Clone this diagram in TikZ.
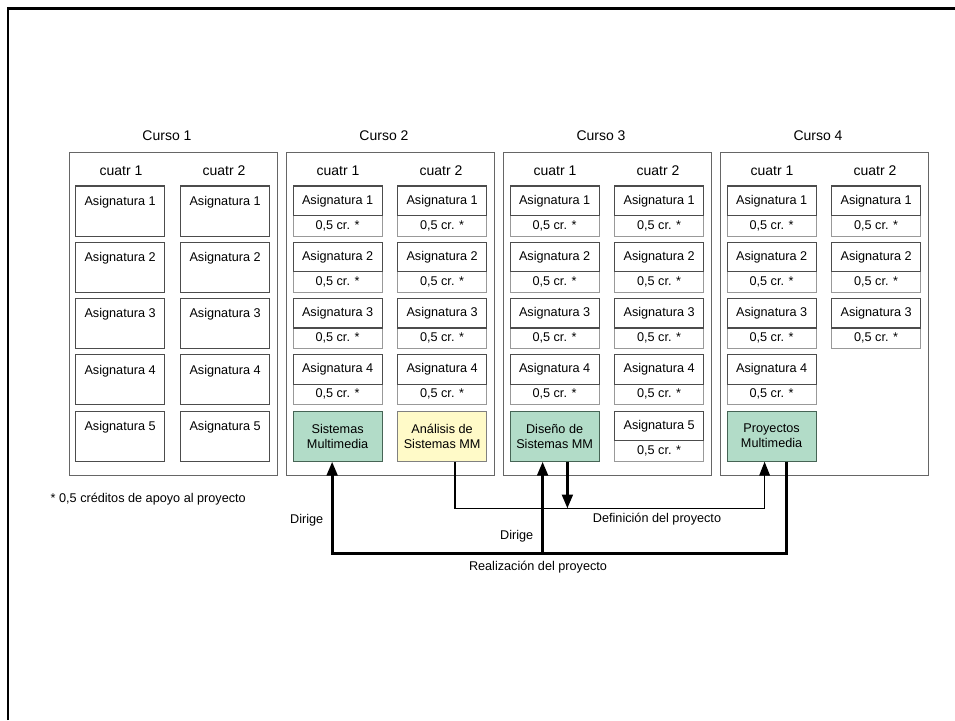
\documentclass[tikz,border=0pt]{standalone}
\usepackage{fontspec}
\setmainfont{Liberation Sans}
\usetikzlibrary{arrows.meta}

\definecolor{verde}{RGB}{178,220,200}
\definecolor{verdeborde}{RGB}{70,100,85}
\definecolor{amarillo}{RGB}{255,250,200}

\begin{document}
\begin{tikzpicture}[x=0.75pt, y=-0.75pt,
  curso/.style={draw=gray!80!black, line width=0.6pt, anchor=north west, inner sep=0pt,
    minimum width=156pt, minimum height=242pt},
  asig/.style={draw=black!70, line width=0.9pt, fill=white, anchor=north west, inner sep=0pt,
    minimum width=66.75pt, minimum height=22.1pt, text height=6.8pt, text depth=1.8pt,
    font=\fontsize{9.5}{11}\selectfont},
  asigfull/.style={asig, minimum height=0pt, text height=14.4pt, text depth=23.1pt},
  cred/.style={asig, draw=gray!80, minimum height=15.4pt},
  proy/.style={asig, draw=verdeborde, fill=verde, minimum height=37.5pt, align=center,
    text height=, text depth=, font=\fontsize{9.5}{11.2}\selectfont},
  titulo/.style={font=\fontsize{10.5}{12}\selectfont},
  etiqueta/.style={font=\fontsize{9.5}{11}\selectfont},
  flecha/.style={line width=2.2pt, -{Triangle[length=10.5pt, width=8pt]}},
  fina/.style={line width=1.1pt, -{Triangle[length=10.5pt, width=8pt]}},
]
\useasboundingbox (0,0) rectangle (955,720);

% Frame
\draw[line width=1.9pt] (8,720) -- (8,8.5) -- (955,8.5);

% Cursos
\foreach \c in {1,...,4} {
  \pgfmathsetmacro{\xc}{69+217*(\c-1)}
  \node[curso] (curso\c) at (\xc,152) {};
  \node[titulo] (tit\c) at (\xc+98,136) {Curso \c};
  \node[titulo] (cua\c1) at (\xc+52,171) {cuatr 1};
  \node[titulo] (cua\c2) at (\xc+155,171) {cuatr 2};
}

% Curso 1: asignaturas sin creditos
\foreach \col/\dx in {1/75, 2/180} {
  \foreach \r in {1,...,5} {
    \node[asigfull] (a1\col\r) at (\dx,{185.5+56.25*(\r-1)}) {Asignatura \r};
  }
}

% Cursos 2-4: asignaturas con 0,5 creditos
\foreach \c/\col/\n in {2/1/4, 2/2/4, 3/1/4, 3/2/5, 4/1/4, 4/2/3} {
  \pgfmathsetmacro{\xs}{69+217*(\c-1)+6.5+104.5*(\col-1)}
  \foreach \r in {1,...,\n} {
    \node[cred] (k\c\col\r) at (\xs,{215+56.25*(\r-1)}) {0,5 cr. *};
    \node[asig] (a\c\col\r) at (\xs,{185.5+56.25*(\r-1)}) {Asignatura \r};
  }
}

% Asignaturas de proyecto
\node[proy] (smm) at (292.5,410.5) {Sistemas\\Multimedia};
\node[proy, fill=amarillo, draw=gray] (asmm) at (397,410.5) {Análisis de\\Sistemas MM};
\node[proy] (dsmm) at (509.5,410.5) {Diseño de\\Sistemas MM};
\node[proy] (pmm) at (726.5,410.5) {Proyectos\\Multimedia};

\node[etiqueta, anchor=west] (nota) at (46,499.5) {* 0,5 créditos de apoyo al proyecto};

% Conectores
\coordinate (defi) at (0,508.5);
\coordinate (bajo) at (0,553.5);

\draw[fina] ([xshift=9.75pt]asmm.south) -- ([xshift=9.75pt]asmm.south |- defi)
  -| ([xshift=-5.25pt]pmm.south);
\draw[flecha] ([xshift=9.6pt]dsmm.south) -- ([xshift=9.6pt]dsmm.south |- defi);

\draw[flecha] ([xshift=11.25pt]pmm.south) -- ([xshift=11.25pt]pmm.south |- bajo)
  -| ([xshift=-4.1pt]smm.south);
\draw[flecha] ([xshift=-9pt]dsmm.south |- bajo) -- ([xshift=-9pt]dsmm.south);

\node[etiqueta, anchor=east] (dir1) at (328,520) {Dirige};
\node[etiqueta, anchor=east] (dir2) at (538,536.5) {Dirige};
\node[etiqueta] (lbdef) at (657,519) {Definición del proyecto};
\node[etiqueta] (lbreal) at (538,567) {Realización del proyecto};

\end{tikzpicture}
\end{document}
